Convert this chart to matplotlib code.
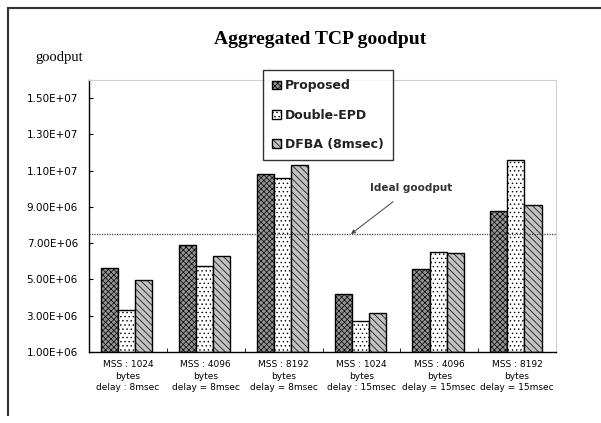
import matplotlib
matplotlib.use("Agg")
import matplotlib.pyplot as plt
from matplotlib.lines import Line2D
import numpy as np

groups = [
    "MSS : 1024\nbytes\ndelay : 8msec",
    "MSS : 4096\nbytes\ndelay = 8msec",
    "MSS : 8192\nbytes\ndelay = 8msec",
    "MSS : 1024\nbytes\ndelay : 15msec",
    "MSS : 4096\nbytes\ndelay = 15msec",
    "MSS : 8192\nbytes\ndelay = 15msec",
]
proposed = [5.65e6, 6.9e6, 10.8e6, 4.2e6, 5.6e6, 8.75e6]
double_epd = [3.3e6, 5.73e6, 10.6e6, 2.7e6, 6.49e6, 11.6e6]
dfba = [4.95e6, 6.27e6, 11.3e6, 3.17e6, 6.44e6, 9.13e6]
series_names = ["Proposed", "Double-EPD", "DFBA (8msec)"]
ideal = 7.5e6
yticks = [1.0e6, 3.0e6, 5.0e6, 7.0e6, 9.0e6, 1.1e7, 1.3e7, 1.5e7]

plt.rcParams["hatch.linewidth"] = 0.5

fig = plt.figure(figsize=(6.01, 4.23), dpi=100)
ax = fig.add_axes([89 / 601, 71 / 423, 467 / 601, 272 / 423])

x = np.arange(len(groups))
w = 0.22
styles = [
    dict(facecolor="#959595", hatch="xxxxxx", hatch_color="#767676"),
    dict(facecolor="white", hatch="....", hatch_color="#a8a8a8"),
    dict(facecolor="#c2c2c2", hatch="\\\\\\\\\\", hatch_color="#727272"),
]
handles = []
for i, (vals, st) in enumerate(zip([proposed, double_epd, dfba], styles)):
    plt.rcParams["hatch.color"] = st["hatch_color"]
    bars = ax.bar(x + (i - 1) * w - 0.015, np.array(vals) - 1e6, w, bottom=1e6,
                  facecolor=st["facecolor"], edgecolor="black", linewidth=1.0,
                  hatch=st["hatch"], label=series_names[i], zorder=2)
    handles.append(bars)

ax.axhline(ideal, color="#444444", linestyle=(0, (1, 1)), linewidth=0.9, zorder=3)

ax.set_xlim(-0.5, len(groups) - 0.5)
ax.set_ylim(1e6, 1.6e7)
ax.set_yticks(yticks)
ax.set_yticklabels([f"{v:.2E}" for v in yticks])
ax.set_xticks(x)
ax.set_xticklabels(groups, fontsize=6.5, linespacing=1.35)
ax.set_xticks(np.arange(len(groups) + 1) - 0.5, minor=True)
ax.tick_params(axis="x", which="major", length=0, pad=6)
ax.tick_params(axis="x", which="minor", direction="in", length=3)
ax.tick_params(axis="y", direction="in", length=3, labelsize=7.5, pad=8)

for s in ["top", "right"]:
    ax.spines[s].set_color("#d0d0d0")
for s in ["left", "bottom"]:
    ax.spines[s].set_color("black")
    ax.spines[s].set_linewidth(1.0)

leg = fig.legend(handles=handles, loc="upper left",
                 bbox_to_anchor=(263 / 601, 1 - 70 / 423), borderaxespad=0,
                 frameon=True, fancybox=False, edgecolor="black",
                 handlelength=0.7, handleheight=0.7, handletextpad=0.3,
                 labelspacing=1.3, borderpad=0.75, fontsize=9)
leg.get_frame().set_linewidth(1.0)
for t in leg.get_texts():
    t.set_fontweight("bold")
    t.set_color("#222222")

ax.annotate("Ideal goodput", xy=(351, 423 - 234), xycoords="figure pixels",
            xytext=(411, 423 - 188), textcoords="figure pixels",
            ha="center", va="center", fontsize=7.5, fontweight="bold", color="#333333",
            arrowprops=dict(arrowstyle="-|>", color="#444444", lw=0.7,
                            mutation_scale=6, shrinkA=7, shrinkB=0))

fig.text(320 / 601, 1 - 40 / 423, "Aggregated TCP goodput", ha="center", va="center",
         fontsize=14, fontweight="bold", family="Liberation Serif")
fig.text(35 / 601, 1 - 57 / 423, "goodput", ha="left", va="center",
         fontsize=10.5, family="Liberation Serif")

fig.add_artist(Line2D([8 / 601, 1], [1 - 8 / 423, 1 - 8 / 423], color="#333333", lw=1.5))
fig.add_artist(Line2D([8 / 601, 8 / 601], [1 - 8 / 423, 1 - 415 / 423], color="#333333", lw=1.5))

fig.savefig("out.png", dpi=100)
